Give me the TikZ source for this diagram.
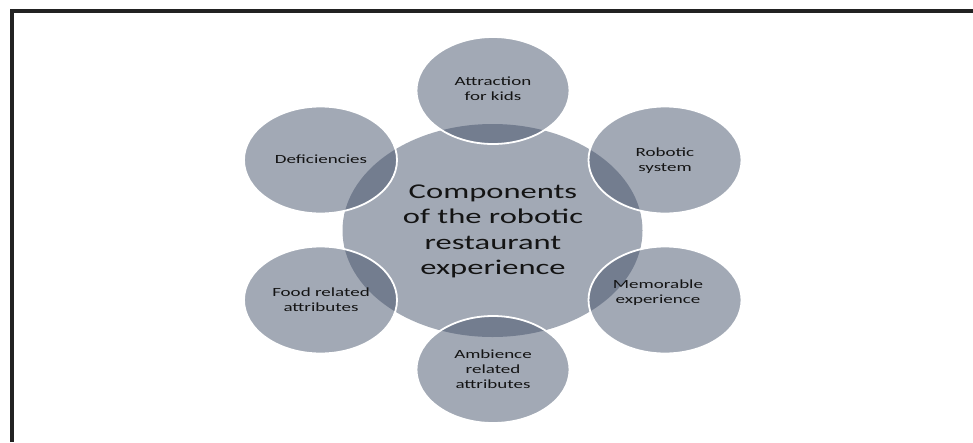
\documentclass[tikz,border=0pt]{standalone}
\usepackage{fontspec}
\setmainfont{Carlito}
\usetikzlibrary{shapes.geometric}
\definecolor{satfill}{HTML}{45536B}
\definecolor{cenfill}{HTML}{A2A9B5}
\definecolor{txtcol}{HTML}{141414}
\definecolor{framecol}{HTML}{222222}
\tikzset{
  cen/.style={ellipse, fill=cenfill, draw=none, inner sep=0pt, minimum width=300pt, minimum height=213pt},
  sat/.style={ellipse, fill=satfill, fill opacity=0.5, draw=white, draw opacity=1, line width=1.8pt, inner sep=0pt, minimum width=153pt, minimum height=107pt},
  small/.style={text=txtcol, align=center, inner sep=0pt, font=\fontsize{12.5}{15}\selectfont},
  big/.style={text=txtcol, align=center, inner sep=0pt, font=\fontsize{21}{25.3}\selectfont},
}
\newcommand{\hstr}[1]{\scalebox{1.52}[1]{#1}}
\begin{document}
\begin{tikzpicture}[x=1pt,y=-1pt]
\useasboundingbox (0,0) rectangle (973,442);
\node[cen] (c) at (492.5,230.5) {};
\node[sat] (att) at (493,90.5) {};
\node[sat] (rob) at (665,160) {};
\node[sat] (def) at (320.5,160) {};
\node[sat] (food) at (320.5,300) {};
\node[sat] (mem) at (665,300) {};
\node[sat] (amb) at (493,369.5) {};
\node[big] (tc) at (493,231.5) {\scalebox{1.55}[1]{\begin{tabular}{@{}c@{}}Components\\of the robotic\\restaurant\\experience\end{tabular}}};
\node[small] (tatt) at (493,90) {\hstr{\begin{tabular}{@{}c@{}}Attraction\\for kids\end{tabular}}};
\node[small] (trob) at (665,160.5) {\hstr{\begin{tabular}{@{}c@{}}Robotic\\system\end{tabular}}};
\node[small] (tdef) at (321,159.5) {\hstr{Deficiencies}};
\node[small] (tfood) at (321,300.5) {\hstr{\begin{tabular}{@{}c@{}}Food related\\attributes\end{tabular}}};
\node[small] (tmem) at (658,292.5) {\hstr{\begin{tabular}{@{}c@{}}Memorable\\experience\end{tabular}}};
\node[small] (tamb) at (493,370.5) {\hstr{\begin{tabular}{@{}c@{}}Ambience\\related\\attributes\end{tabular}}};
\draw[framecol, line width=3.6pt] (12,442) -- (12,11) -- (973,11);
\end{tikzpicture}
\end{document}
